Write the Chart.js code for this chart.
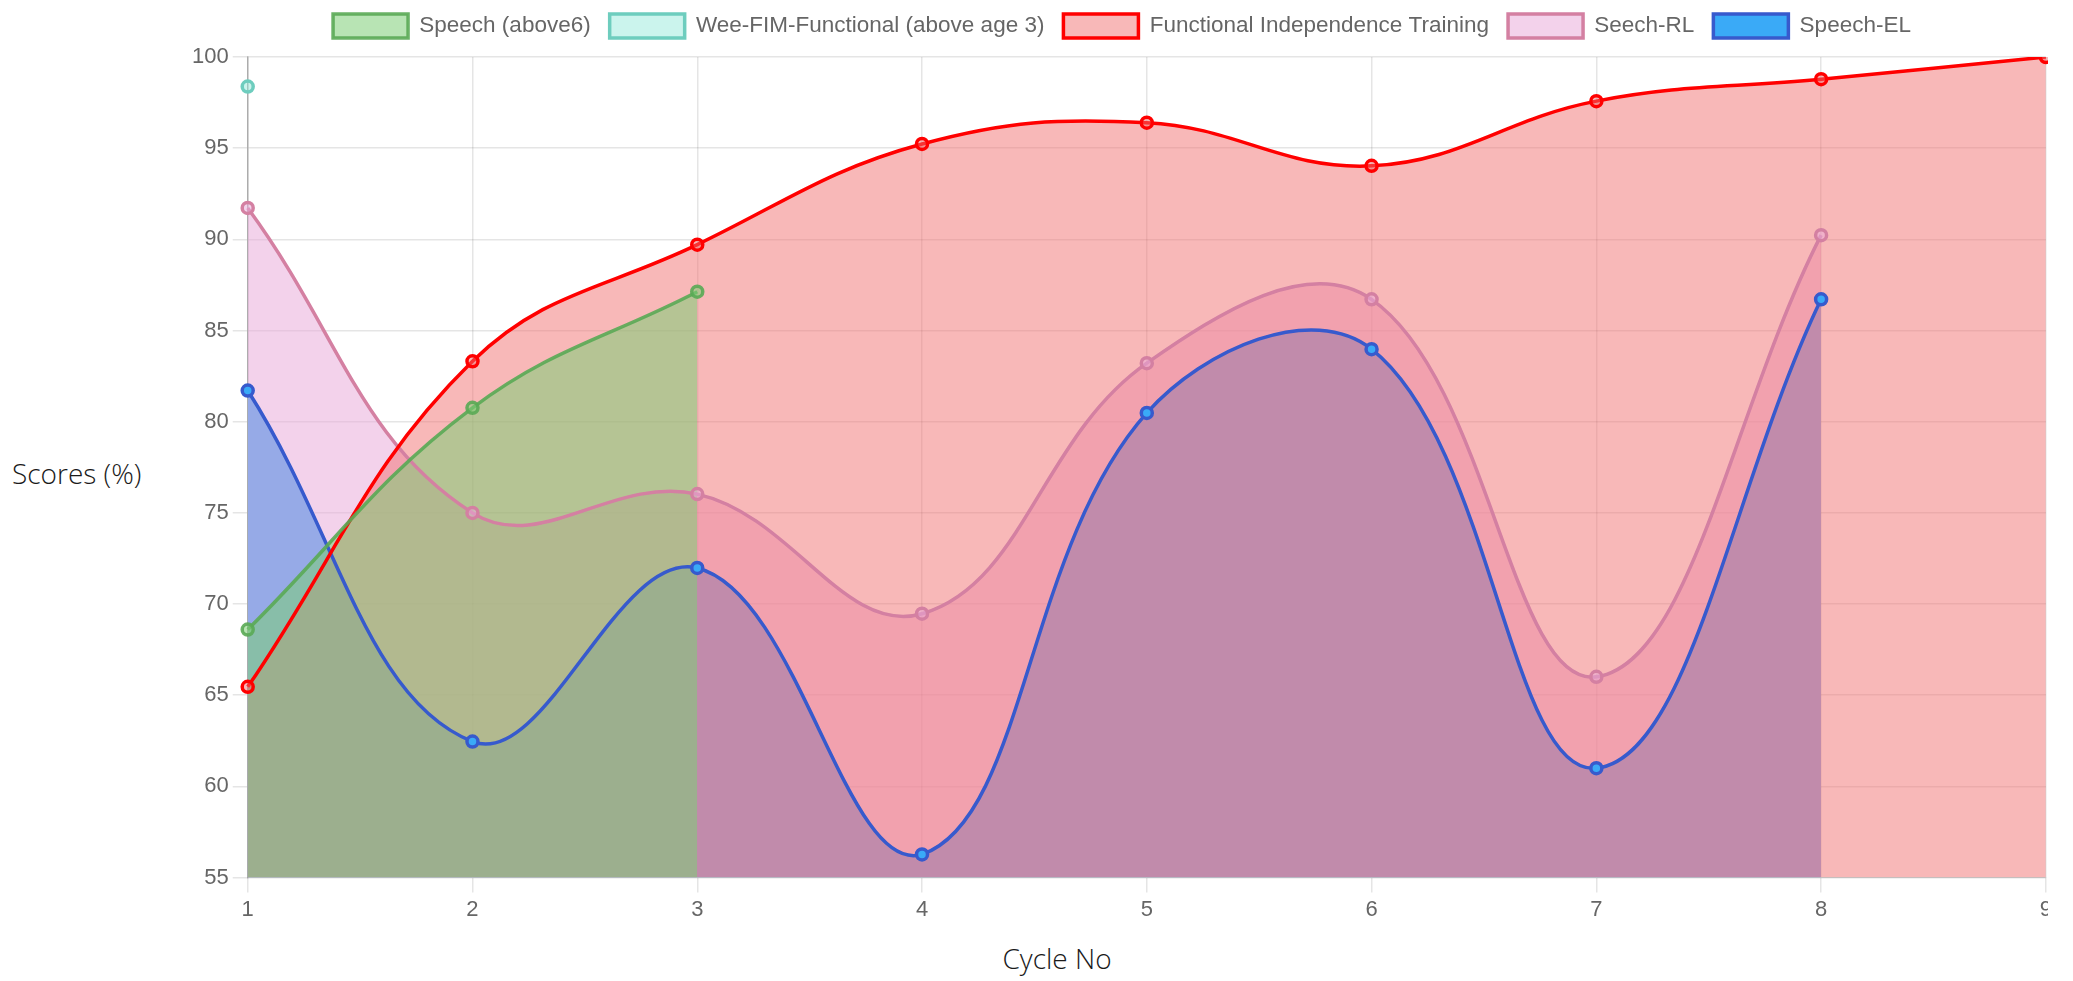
<!DOCTYPE html>
<html>
<head>
<meta charset="utf-8">
<script src="https://cdn.jsdelivr.net/npm/chart.js@4.4.0/dist/chart.umd.min.js"></script>
<style>
  body { margin: 0; background: #fff; }
  #wrap { position: relative; width: 2073px; height: 981px; overflow: hidden; }
  #box { position: absolute; left: 188px; top: -5px; width: 1860px; height: 935px; overflow: hidden; }
  .axis-title { position: absolute; font-family: 'Open Sans', sans-serif; font-weight: 300; font-size: 28px; color: #1a1a1a; line-height: 34px; white-space: nowrap; }
  #ylab { left: 12px; top: 456px; }
  #xlab { left: 0; width: 2114px; text-align: center; top: 941px; }
</style>
</head>
<body>
<div id="wrap">
  <div id="ylab" class="axis-title">Scores (%)</div>
  <div id="box"><canvas id="scoreChart" width="1868" height="932"></canvas></div>
  <div id="xlab" class="axis-title">Cycle No</div>
</div>
<script>
  // cycles on the x axis
  const cycles = ['1', '2', '3', '4', '5', '6', '7', '8', '9'];
  const yTicks = [55, 60, 65, 70, 75, 80, 85, 90, 95, 100];

  // scores per cycle
  const speechAbove6 = [68.6, 80.76, 87.13];
  const weeFim = [98.38];
  const fit = [65.46, 83.31, 89.71, 95.23, 96.4, 94.03, 97.58, 98.78, 100];
  const seechRL = [91.72, 75.0, 76.03, 69.47, 83.21, 86.71, 66.01, 90.23];
  const speechEL = [81.71, 62.46, 71.98, 56.27, 80.48, 83.98, 61.0, 86.71];

  // a bit more room under the legend
  const legendSpacer = {
    id: 'legendSpacer',
    beforeLayout(chart) {
      const legend = chart.legend;
      if (!legend || legend._spaced) return;
      const origFit = legend.fit;
      legend.fit = function() { origFit.call(this); this.height += 9; };
      legend._spaced = true;
    }
  };

  document.addEventListener("DOMContentLoaded", function() {
    Chart.defaults.font.family = "'Liberation Sans', Arial, sans-serif";
    Chart.defaults.color = '#666';

    function line(label, data, border, fill) {
      return {
        label: label,
        data: data,
        borderColor: border,
        backgroundColor: fill,
        pointBackgroundColor: fill,
        pointBorderColor: border,
        borderWidth: 3.5,
        pointRadius: 5.5,
        pointBorderWidth: 3.5,
        tension: 0.4,
        fill: 'origin'
      };
    }

    const ctx = document.getElementById('scoreChart').getContext('2d');
    new Chart(ctx, {
      type: 'line',
      data: {
        labels: cycles,
        datasets: [
          line('Speech (above6)', speechAbove6, 'rgba(90,170,85,0.9)', 'rgba(126,206,119,0.55)'),
          line('Wee-FIM-Functional (above age 3)', weeFim, 'rgb(110,205,190)', 'rgba(140,230,215,0.45)'),
          line('Functional Independence Training', fit, 'rgb(255,0,0)', 'rgba(240,107,107,0.48)'),
          line('Seech-RL', seechRL, 'rgb(212,128,162)', 'rgba(232,170,217,0.53)'),
          line('Speech-EL', speechEL, 'rgb(55,90,205)', 'rgb(58,170,247)')
        ]
      },
      plugins: [legendSpacer],
      options: {
        responsive: false,
        animation: false,
        plugins: {
          filler: { drawTime: 'beforeDatasetsDraw' },
          legend: {
            position: 'top',
            labels: { boxWidth: 75, boxHeight: 24, padding: 19, font: { size: 22.5 } }
          },
          tooltip: { enabled: false }
        },
        scales: {
          x: {
            grid: { color: 'rgba(0,0,0,0.1)', lineWidth: 1.5, tickLength: 15 },
            border: { color: 'rgba(0,0,0,0.15)' },
            ticks: { font: { size: 22 }, padding: 4, maxRotation: 0 }
          },
          y: {
            min: 55,
            max: 100,
            afterBuildTicks: function(axis) {
              axis.ticks = yTicks.map(v => ({ value: v }));
            },
            grid: { color: 'rgba(0,0,0,0.1)', lineWidth: 1.5, tickLength: 15 },
            border: { color: 'rgba(0,0,0,0.25)', width: 1.5 },
            ticks: { font: { size: 22 }, padding: 4 }
          }
        }
      }
    });
  });
</script>
</body>
</html>
